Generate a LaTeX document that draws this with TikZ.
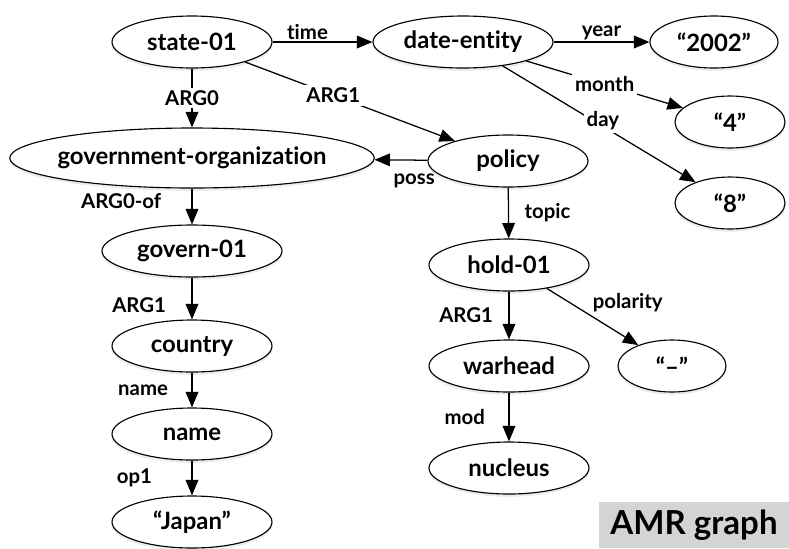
\documentclass[tikz,border=0pt]{standalone}
\usepackage{fontspec}
\setmainfont{Lato}[Ligatures={NoCommon,NoContextual}]
\usetikzlibrary{shapes.geometric, arrows.meta, shadows}

\begin{document}
\begin{tikzpicture}[
        >={Triangle[length=11pt,width=9pt]},
        concept/.style={ellipse, draw, line width=0.8pt, fill=white, inner sep=0pt,
            minimum width=4cm, minimum height=1.3cm,
            font=\fontsize{17}{20}\selectfont\bfseries,
            drop shadow={opacity=0.15, shadow xshift=0pt, shadow yshift=-2pt}},
        rel/.style={->, line width=0.9pt},
        lbl/.style={font=\fontsize{14.5}{17}\selectfont\bfseries, inner sep=1pt},
        cut/.style={lbl, fill=white, inner sep=2pt}
    ]

        \useasboundingbox (0,0) rectangle (19.725,-13.7);

        % ==========================================
        % TOP ROW: state-01 and its date
        % ==========================================
        \node[concept] (state) at (4.8,-1.05) {state-01};
        \node[concept, minimum width=4.5cm] (date) at (11.575,-1.05) {date-entity};
        \node[concept, minimum width=3.2cm] (year) at (17.85,-1.05) {“2002”};
        \node[concept, minimum width=2.75cm] (month) at (18.25,-3.05) {“4”};
        \node[concept, minimum width=2.75cm] (day) at (18.25,-5.075) {“8”};

        % ==========================================
        % LEFT COLUMN: government-organization chain
        % ==========================================
        \node[concept, inner xsep=-4pt, minimum width=9.07cm, minimum height=1.5cm] (govorg) at (4.8,-3.95) {government-organization};
        \node[concept, minimum width=4.5cm] (govern) at (4.8,-6.275) {govern-01};
        \node[concept] (country) at (4.8,-8.65) {country};
        \node[concept] (name) at (4.8,-10.85) {name};
        \node[concept] (japan) at (4.8,-13.05) {“Japan”};

        % ==========================================
        % RIGHT COLUMN: policy chain
        % ==========================================
        \node[concept] (policy) at (12.7,-4.025) {policy};
        \node[concept] (hold) at (12.725,-6.625) {hold-01};
        \node[concept] (warhead) at (12.725,-9.15) {warhead};
        \node[concept, minimum width=2.7cm] (neg) at (16.8,-9.15) {“–”};
        \node[concept] (nucleus) at (12.725,-11.7) {nucleus};

        % Caption box
        \node[fill=black!17, minimum width=4.75cm, minimum height=1.15cm,
            font=\fontsize{23.5}{28}\selectfont\bfseries] (tag) at (17.35,-13.125) {AMR graph};

        % ==========================================
        % EDGES
        % ==========================================
        \draw[rel] (state) -- node[lbl, above, pos=0.35] {time} (date);
        \draw[rel] (date) -- node[lbl, above] {year} (year);
        \draw[rel] (date) -- node[cut] {month} (month);
        \draw[rel] (date) -- node[cut, pos=0.52, yshift=4pt] {day} (day);
        \draw[rel] (state) -- node[cut] {ARG0} (govorg);
        \draw[rel] (state) -- node[cut, pos=0.42] {ARG1} (policy);
        \draw[rel] (policy) -- node[lbl, below, pos=0.25, yshift=-8pt] {poss} (govorg);

        \draw[rel] (govorg) -- node[lbl, left=0.72cm, pos=0.35] {ARG0-of} (govern);
        \draw[rel] (govern) -- node[lbl, left=0.6cm, pos=0.65] {ARG1} (country);
        \draw[rel] (country) -- node[lbl, left=0.55cm] {name} (name);
        \draw[rel] (name) -- node[lbl, left=0.95cm] {op1} (japan);

        \draw[rel] (policy) -- node[lbl, right=0.35cm] {topic} (hold);
        \draw[rel] (hold) -- node[lbl, left=0.35cm] {ARG1} (warhead);
        \draw[rel] (hold) -- node[lbl, above right, pos=0.45, xshift=2pt] {polarity} (neg);
        \draw[rel] (warhead) -- node[lbl, left=0.55cm] {mod} (nucleus);

\end{tikzpicture}
\end{document}
